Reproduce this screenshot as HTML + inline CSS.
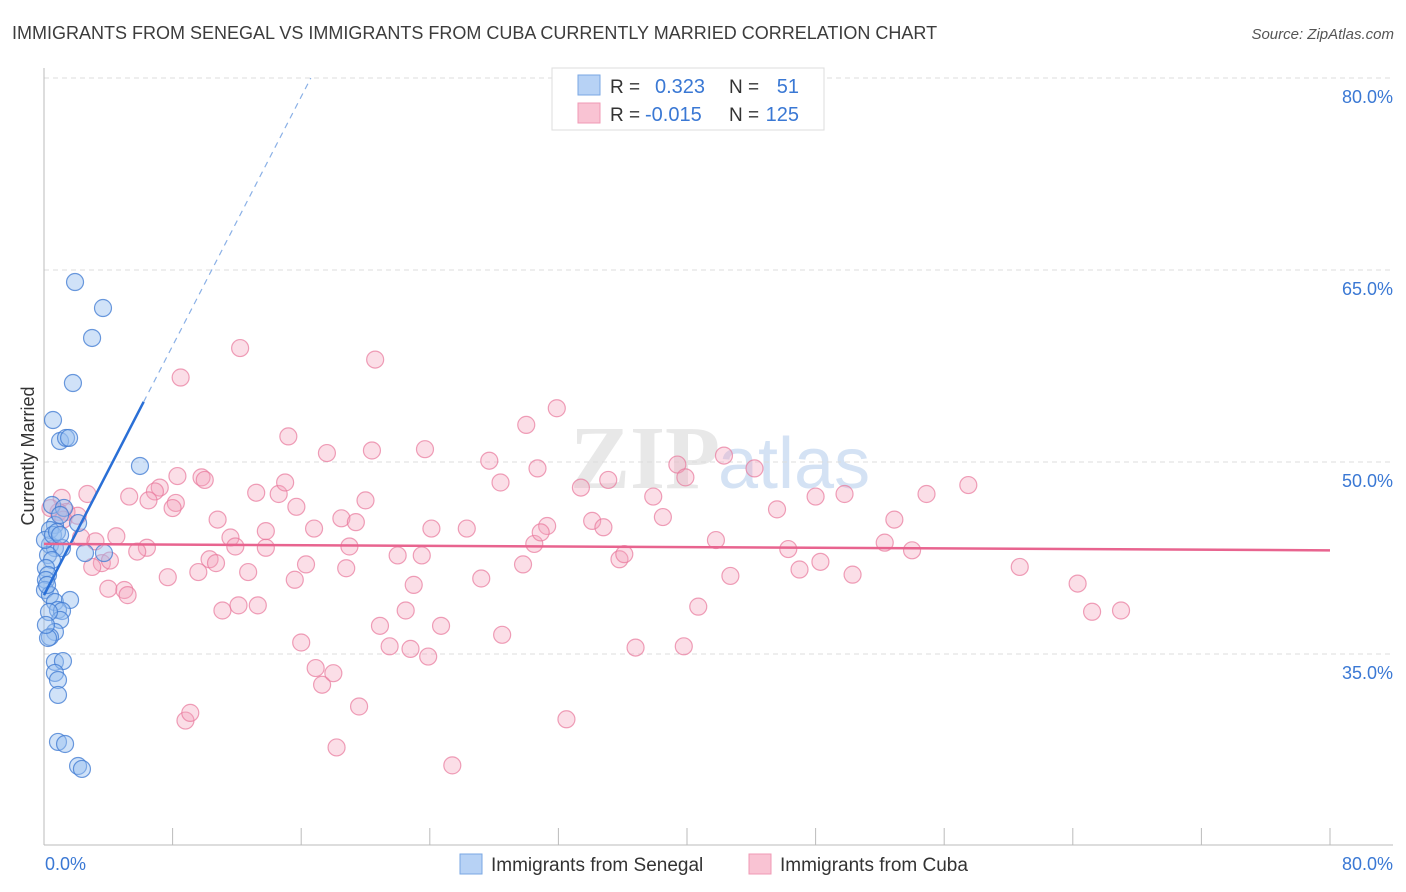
<!DOCTYPE html>
<html><head><meta charset="utf-8"><style>
body{margin:0;background:#fff;font-family:"Liberation Sans",sans-serif;}
svg{display:block}
</style></head><body>
<svg width="1406" height="892" viewBox="0 0 1406 892" xmlns="http://www.w3.org/2000/svg">
<text x="12" y="39" font-size="18" fill="#3c3c3c">IMMIGRANTS FROM SENEGAL VS IMMIGRANTS FROM CUBA CURRENTLY MARRIED CORRELATION CHART</text>
<text x="1394" y="39" font-size="15" font-style="italic" fill="#555" text-anchor="end">Source: ZipAtlas.com</text>
<text x="720" y="488" font-size="90" font-weight="bold" fill="#d9d9d9" text-anchor="end" font-family="Liberation Serif" opacity="0.6">ZIP</text>
<text x="718" y="488" font-size="72" fill="#b8d0ee" opacity="0.6">atlas</text>
<g id="grid"></g>
<g id="axes"></g>
<g id="pts"></g>
<g id="lines"></g>
<text transform="translate(34,456) rotate(-90)" font-size="18" fill="#333" text-anchor="middle">Currently Married</text>
<text x="45" y="870" font-size="18" fill="#3a78d4">0.0%</text>
<text x="1393" y="870" font-size="18" fill="#3a78d4" text-anchor="end">80.0%</text>
<g>
<rect x="552" y="68" width="272" height="62" fill="#fff" stroke="#ddd"/>
<rect x="578" y="75" width="22" height="20" fill="#b7d2f5" stroke="#7aa7e3"/>
<rect x="578" y="103" width="22" height="20" fill="#f9c3d3" stroke="#f09ab4"/>
<text x="610" y="93" font-size="19" fill="#333">R = </text><text x="655" y="93" font-size="20" fill="#3a78d4">0.323</text>
<text x="729" y="93" font-size="19" fill="#333">N = </text><text x="799" y="93" font-size="20" fill="#3a78d4" text-anchor="end">51</text>
<text x="610" y="121" font-size="19" fill="#333">R = </text><text x="645" y="121" font-size="20" fill="#3a78d4">-0.015</text>
<text x="729" y="121" font-size="19" fill="#333">N = </text><text x="799" y="121" font-size="20" fill="#3a78d4" text-anchor="end">125</text>
</g>
<g>
<rect x="460" y="854" width="22" height="20" fill="#b7d2f5" stroke="#7aa7e3"/>
<text x="491" y="871" font-size="19" fill="#333">Immigrants from Senegal</text>
<rect x="749" y="854" width="22" height="20" fill="#f9c3d3" stroke="#f09ab4"/>
<text x="780" y="871" font-size="19" fill="#333">Immigrants from Cuba</text>
</g>
</svg>
<script>
const yTicks=[80,65,50,35];
const yTickLabels=["80.0%","65.0%","50.0%","35.0%"];
const xTicks=[0,8,16,24,32,40,48,56,64,72,80];
const senegalX=[1.93,3.67,2.99,1.8,0.56,1.0,1.37,1.56,5.97,0.5,1.24,2.12,0.68,1.0,0.37,0.68,1.12,0.25,0.5,0.12,0.25,0.12,0.06,2.55,3.73,0.37,0.68,1.62,0.87,1.12,1.0,0.68,0.37,0.25,0.68,1.18,0.68,0.87,0.87,0.87,1.31,2.12,2.36,0.19,0.37,0.06,0.56,0.81,1.0,0.31,0.12];
const senegalY=[64.06,62.03,59.69,56.17,53.28,51.64,51.88,51.88,49.69,46.64,46.41,45.23,45.08,45.86,43.52,43.28,43.28,42.73,42.34,41.72,41.17,40.78,40.0,42.89,42.89,39.61,39.06,39.22,38.44,38.36,37.66,36.72,36.33,36.25,34.38,34.45,33.52,32.97,31.8,28.13,27.97,26.25,26.02,40.39,44.69,43.91,44.3,44.53,44.3,38.28,37.27];
const cubaX=[12.2,20.6,8.5,31.9,30.0,15.2,20.4,23.7,17.6,42.3,27.7,30.7,39.4,44.2,9.8,7.2,5.3,6.9,6.5,8.3,10.0,8.2,8.0,2.7,1.1,1.4,2.1,13.2,14.6,15.0,15.7,20.0,28.4,33.4,35.1,37.9,39.9,48.0,49.8,54.9,57.5,10.8,16.8,18.5,19.4,13.8,24.1,26.3,31.3,34.1,34.8,38.5,45.6,52.9,4.5,6.4,5.8,2.3,3.2,3.6,4.1,3.0,11.6,11.9,13.8,19.0,22.0,23.5,30.5,30.9,41.8,46.3,48.3,52.3,54.0,4.0,5.0,5.2,7.7,9.6,10.3,10.7,12.7,15.6,16.3,18.8,27.2,29.8,35.8,36.1,42.7,47.0,50.3,60.7,64.3,11.1,12.1,13.3,22.5,23.0,20.9,24.7,40.7,65.2,67.0,16.0,21.5,22.8,23.9,28.5,36.8,39.8,16.9,17.3,18.0,8.8,9.1,19.6,32.5,18.2,25.4,0.9,1.2,0.4];
const cubaY=[58.9,58.0,56.6,54.2,52.9,52.0,50.9,51.0,50.7,50.5,50.1,49.5,49.8,49.5,48.8,48.0,47.3,47.7,47.0,48.9,48.6,46.8,46.4,47.5,47.2,46.1,45.8,47.6,47.5,48.4,46.5,47.0,48.4,48.0,48.6,47.3,48.8,47.3,47.5,47.5,48.2,45.5,44.8,45.6,45.3,44.6,44.8,44.8,45.0,45.4,44.9,45.7,46.3,45.5,44.2,43.3,43.0,44.1,43.8,42.1,42.3,41.8,44.1,43.4,43.3,43.4,42.7,42.7,43.6,44.5,43.9,43.2,42.2,43.7,43.1,40.1,40.0,39.6,41.0,41.4,42.4,42.1,41.4,40.8,42.0,41.7,40.9,42.0,42.4,42.8,41.1,41.6,41.2,41.8,40.5,38.4,38.8,38.8,38.4,40.4,37.2,37.2,38.7,38.3,38.4,35.9,35.6,35.4,34.8,36.5,35.5,35.6,33.9,32.6,33.5,29.8,30.4,30.9,29.9,27.7,26.3,46.1,45.5,46.4];
const senegalTrend=[0,39.6,6.2,54.7,16.6,80];
const cubaTrend=[0,43.6,80,43.1];
const NS="http://www.w3.org/2000/svg";
const X=v=>44+v*16.075, Y=v=>78+(80-v)*12.8;
function mk(t,a,p){const e=document.createElementNS(NS,t);for(const k in a)e.setAttribute(k,a[k]);p.appendChild(e);return e;}
const grid=document.getElementById('grid'),axes=document.getElementById('axes'),pts=document.getElementById('pts'),lines=document.getElementById('lines');
yTicks.forEach((v,i)=>{
 const l=mk('line',{x1:44,x2:1393,y1:Y(v),y2:Y(v),stroke:'#ddd','stroke-dasharray':'5,4'},grid);
 
 
 const t=mk('text',{x:1393,y:Y(v)+25,'font-size':18,fill:'#3a78d4','text-anchor':'end'},grid);
 t.textContent=yTickLabels[i];
 
 
});
const ax=mk('line',{x1:44,x2:1393,y1:845,y2:845,stroke:'#bbb'},axes);


const ay=mk('line',{x1:44,x2:44,y1:68,y2:845,stroke:'#bbb'},axes);


xTicks.forEach(v=>{
 const t=mk('line',{x1:X(v),x2:X(v),y1:828,y2:845,stroke:'#bbb'},axes);
 
 
});
cubaX.forEach((v,i)=>{
 const c=mk('circle',{cx:X(v),cy:Y(cubaY[i]),r:8.5,fill:'rgba(244,160,187,0.35)',stroke:'rgba(232,120,155,0.7)','stroke-width':1.2},pts);
 
 
});
senegalX.forEach((v,i)=>{
 const c=mk('circle',{cx:X(v),cy:Y(senegalY[i]),r:8.5,fill:'rgba(150,190,240,0.45)',stroke:'rgba(60,120,210,0.75)','stroke-width':1.2},pts);
 
 
});
const s1=mk('line',{x1:X(senegalTrend[0]),y1:Y(senegalTrend[1]),x2:X(senegalTrend[2]),y2:Y(senegalTrend[3]),stroke:'#2a6fd6','stroke-width':2.5},lines);


const s2=mk('line',{x1:X(senegalTrend[2]),y1:Y(senegalTrend[3]),x2:X(senegalTrend[4]),y2:Y(senegalTrend[5]),stroke:'#8ab0e6','stroke-width':1.2,'stroke-dasharray':'6,5'},lines);


const c1=mk('line',{x1:X(cubaTrend[0]),y1:Y(cubaTrend[1]),x2:X(cubaTrend[2]),y2:Y(cubaTrend[3]),stroke:'#e8648f','stroke-width':2.5},lines);


</script>
</body></html>
